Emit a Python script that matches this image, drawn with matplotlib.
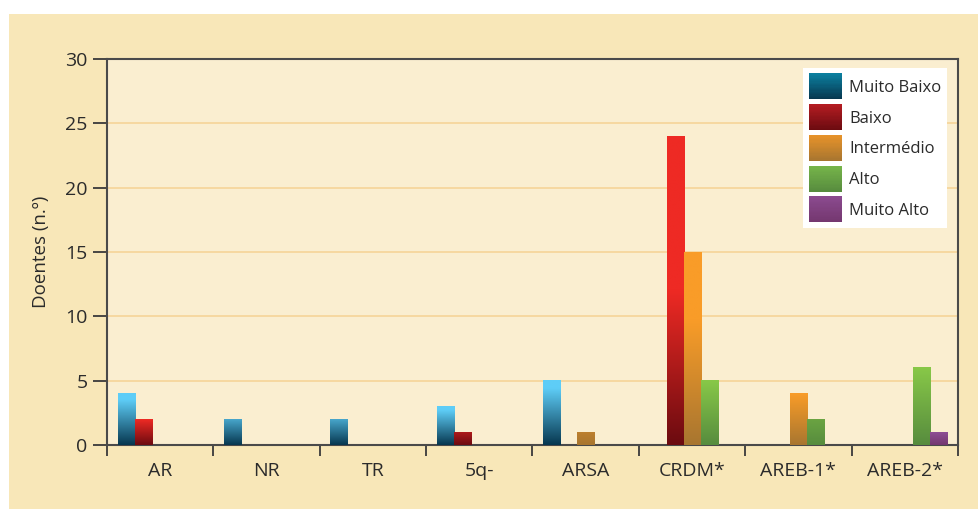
import numpy as np
import matplotlib
matplotlib.use("Agg")
import matplotlib.pyplot as plt
from matplotlib.patches import Rectangle
from matplotlib.legend_handler import HandlerBase
from matplotlib.colors import to_rgb

# dados
categorias = ["AR", "NR", "TR", "5q-", "ARSA", "CRDM*", "AREB-1*", "AREB-2*"]
series = ["Muito Baixo", "Baixo", "Intermédio", "Alto", "Muito Alto"]
muito_baixo = [4, 2, 2, 3, 5, 0, 0, 0]
baixo = [2, 0, 0, 1, 0, 24, 0, 0]
intermedio = [0, 0, 0, 0, 1, 15, 4, 0]
alto = [0, 0, 0, 0, 0, 5, 2, 6]
muito_alto = [0, 0, 0, 0, 0, 0, 0, 1]
valores = [muito_baixo, baixo, intermedio, alto, muito_alto]

# cores (escuro em baixo, claro em cima) e onde o gradiente chega ao claro
escuro = ["#07374f", "#6c0b10", "#a87630", "#578c3e", "#74376f"]
claro = ["#5ecdf7", "#ee2a24", "#f99c28", "#88c848", "#92529c"]
span_min = [2.7, 2.0, 4.0, 5.0, 1.2]
span_frac = [0.88, 0.5, 0.65, 1.0, 1.0]

plt.rcParams['font.family'] = ['Open Sans', 'DejaVu Sans']
txt_cor = "#2b2b2b"
fundo = "#f8e7b8"
painel = "#faeed0"

fig = plt.figure(figsize=(9.79, 5.09), dpi=100)
fig.patches.append(Rectangle((9 / 979, 0), 970 / 979, 495 / 509, transform=fig.transFigure,
                             facecolor=fundo, edgecolor="none", zorder=-10))
ax = fig.add_axes([107 / 979, 64 / 509, 851 / 979, 386 / 509])
ax.set_facecolor(painel)


def grad(c0, c1, n=64):
    a = np.array(to_rgb(c0))
    b = np.array(to_rgb(c1))
    t = np.linspace(0, 1, n)[:, None]
    return a + (b - a) * t


x = np.arange(len(categorias))
w = 0.16
for j, vals in enumerate(valores):
    bars = ax.bar(x + 0.18 + w * j, vals, width=w, facecolor="none", edgecolor="none")
    for b in bars:
        h = b.get_height()
        if h <= 0:
            continue
        s = max(span_min[j], h * span_frac[j])
        yy = np.linspace(0, h, 100)
        t = np.clip(yy / s, 0, 1)[:, None]
        c0 = np.array(to_rgb(escuro[j]))
        c1 = np.array(to_rgb(claro[j]))
        img = (c0 + (c1 - c0) * t)[:, None, :]
        ax.imshow(img, extent=[b.get_x(), b.get_x() + b.get_width(), 0, h],
                  origin="lower", aspect="auto", interpolation="bilinear", zorder=3)

ax.set_xlim(0, 8)
ax.set_ylim(0, 30)
ax.set_yticks(range(0, 31, 5))
for yv in range(5, 30, 5):
    ax.axhline(yv, color="#f6d69c", lw=1.3, zorder=1)

ax.set_xticks(x + 0.5)
ax.set_xticklabels(categorias)
ax.set_xticks(np.arange(0, 9), minor=True)
ax.tick_params(axis="x", which="major", length=0, pad=12, labelsize=14, labelcolor=txt_cor)
ax.tick_params(axis="x", which="minor", length=8, width=1.3, color="#3a3a3a", direction="out")
ax.tick_params(axis="y", length=10, width=1.3, color="#3a3a3a", pad=4, labelsize=14,
               labelcolor=txt_cor)
for sp in ax.spines.values():
    sp.set_color("#4a4a4a")
    sp.set_linewidth(1.5)
ax.set_ylabel("Doentes (n.º)", fontsize=13.5, color=txt_cor, labelpad=11)


class GradHandler(HandlerBase):
    def __init__(self, c0, c1):
        super().__init__()
        self.c0, self.c1 = c0, c1

    def create_artists(self, legend, orig_handle, xdescent, ydescent, width, height, fontsize, trans):
        cols = grad(self.c0, self.c1, 20)
        arts = []
        for k, c in enumerate(cols):
            r = Rectangle((-xdescent, -ydescent + height * k / 20), width, height / 20 + 0.3,
                          facecolor=c, edgecolor="none", transform=trans)
            arts.append(r)
        return arts


handles = [Rectangle((0, 0), 1, 1) for _ in series]
mid = ["#0b7e9e", "#b31c22", "#e6922a", "#76b44a", "#8a4a8e"]
hmap = {h: GradHandler(escuro[i], mid[i]) for i, h in enumerate(handles)}
leg = ax.legend(handles, series, handler_map=hmap, loc="upper right",
                bbox_to_anchor=(0.987, 0.977), borderaxespad=0, fontsize=12,
                handlelength=2.0, handleheight=2.0, labelspacing=0.3, handletextpad=0.4,
                borderpad=0.35, fancybox=False, framealpha=1)
leg.get_frame().set_facecolor("white")
leg.get_frame().set_edgecolor("none")
for t in leg.get_texts():
    t.set_color(txt_cor)
leg.set_zorder(5)

fig.savefig("out.png", dpi=100)
